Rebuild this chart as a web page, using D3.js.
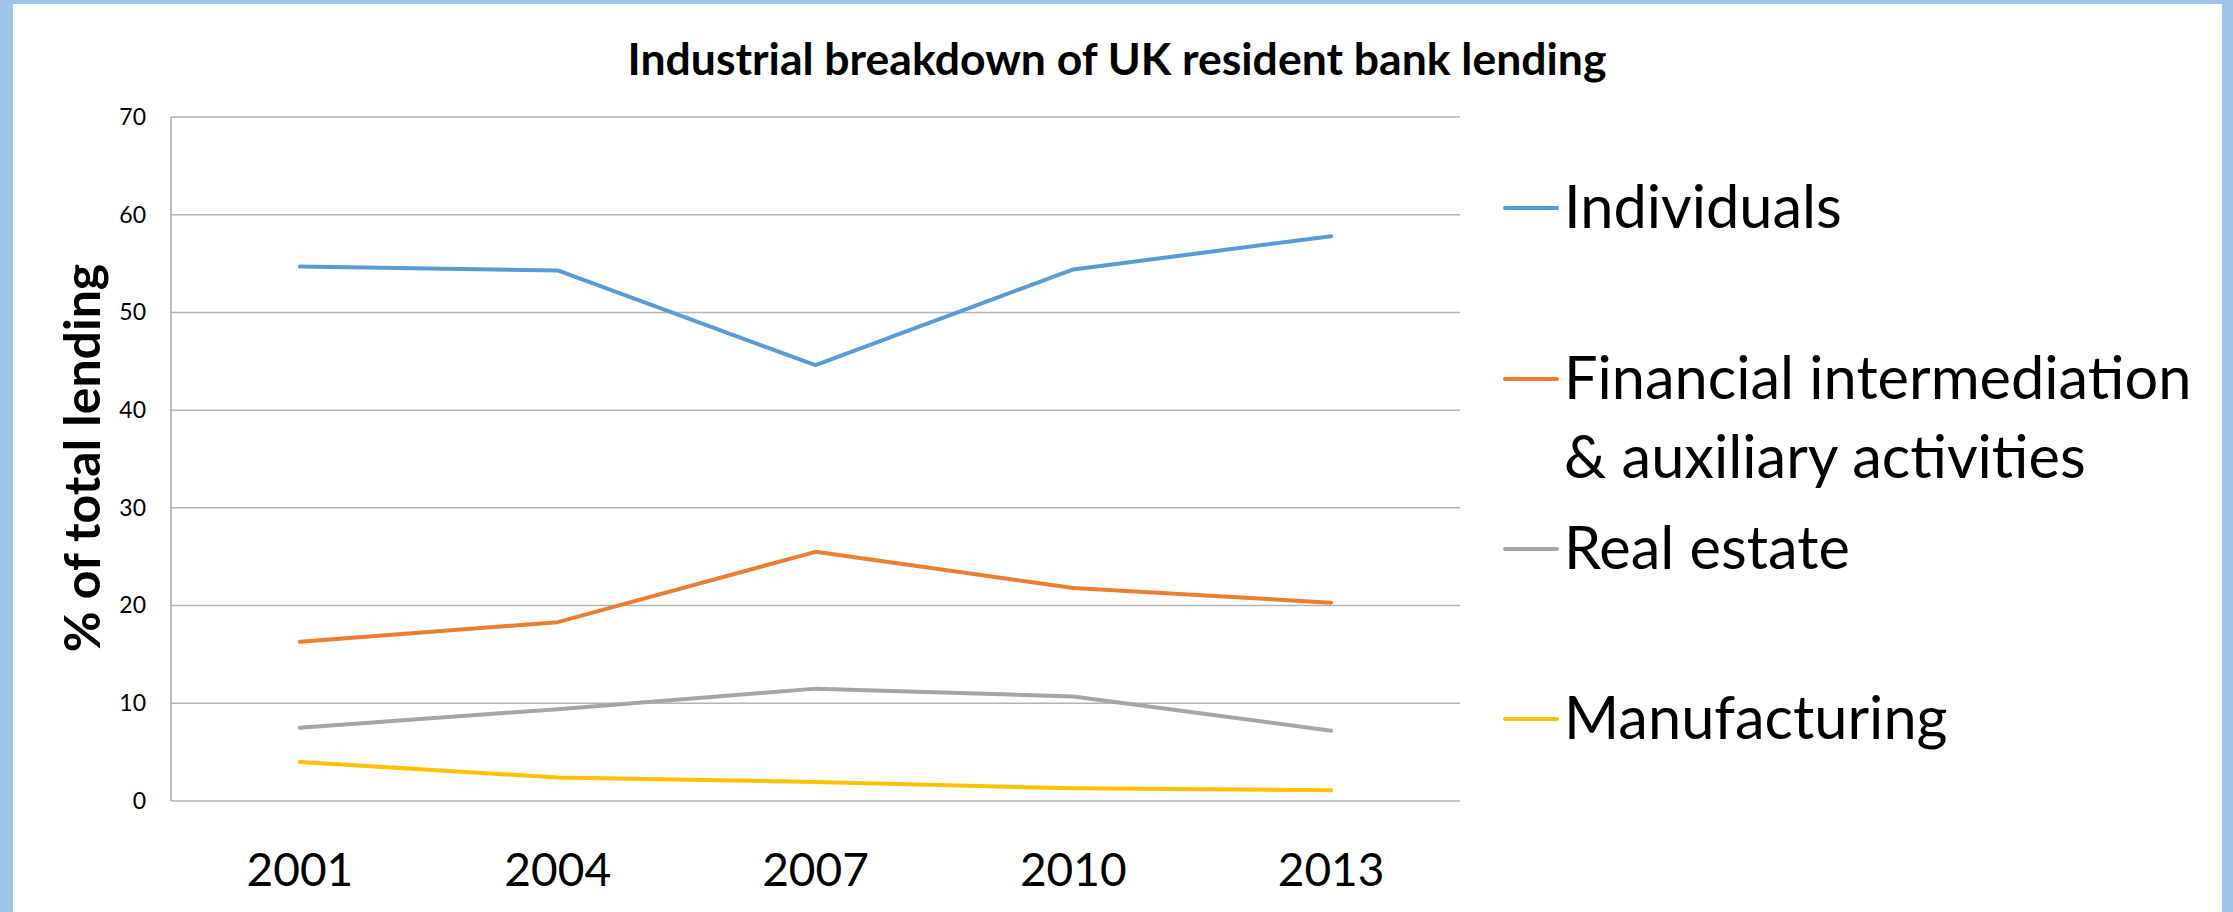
<!DOCTYPE html>
<html>
<head>
<meta charset="utf-8">
<script src="https://cdn.jsdelivr.net/npm/d3@7"></script>
<style>
  html, body { margin: 0; padding: 0; background: #fff; }
  svg { display: block; }
  text { font-family: Lato, "Open Sans", sans-serif; fill: #000; }
</style>
</head>
<body>
<script>
// ---- data ----
const years = ["2001", "2004", "2007", "2010", "2013"];
const individuals = [54.7, 54.3, 44.6, 54.4, 57.8];
const financial = [16.3, 18.3, 25.5, 21.8, 20.3];
const realEstate = [7.5, 9.4, 11.5, 10.7, 7.2];
const manufacturing = [4.0, 2.4, 1.95, 1.3, 1.1];
const seriesNames = ["Individuals", "Financial intermediation\n& auxiliary activities", "Real estate", "Manufacturing"];
const seriesColors = ["#5B9BD5", "#ED7D31", "#A5A5A5", "#FFC000"];
const yTicks = [0, 10, 20, 30, 40, 50, 60, 70];
const title = "Industrial breakdown of UK resident bank lending";
const yTitle = "% of total lending";

const series = [individuals, financial, realEstate, manufacturing].map((v, i) => ({
  name: seriesNames[i], color: seriesColors[i], values: v
}));

// ---- layout ----
const W = 2233, H = 912;
const plot = { left: 171, right: 1460, top: 117, bottom: 801 };

const svg = d3.select("body").append("svg").attr("width", W).attr("height", H);

// frame (light blue border)
svg.append("rect").attr("x", 0).attr("y", 0).attr("width", W).attr("height", H).attr("fill", "#9DC3E6");
svg.append("rect").attr("x", 13).attr("y", 4).attr("width", 2222 - 13).attr("height", H - 4).attr("fill", "#fff");

const x = d3.scaleBand().domain(years).range([plot.left, plot.right]).padding(0);
const y = d3.scaleLinear().domain([0, 70]).range([plot.bottom, plot.top]);

// gridlines
svg.append("g")
  .selectAll("line").data(yTicks).join("line")
  .attr("x1", plot.left).attr("x2", plot.right)
  .attr("y1", d => y(d)).attr("y2", d => y(d))
  .attr("stroke", "#B3B3B3").attr("stroke-width", 1.5);

// y axis line
svg.append("line")
  .attr("x1", plot.left).attr("x2", plot.left)
  .attr("y1", y(70)).attr("y2", y(0))
  .attr("stroke", "#A6A6A6").attr("stroke-width", 1.5);

// y tick labels
const yAxis = d3.axisLeft(y).tickValues(yTicks).tickSize(0).tickPadding(25);
const gy = svg.append("g").attr("transform", `translate(${plot.left},0)`).call(yAxis);
gy.select(".domain").remove();
gy.selectAll("text").attr("font-size", 23).attr("font-family", "Lato, sans-serif").attr("fill", "#000");

// x tick labels
const xAxis = d3.axisBottom(x).tickSize(0).tickPadding(52);
const gx = svg.append("g").attr("transform", `translate(0,${plot.bottom})`).call(xAxis);
gx.select(".domain").remove();
gx.selectAll("text").attr("font-size", 46).attr("font-family", "Lato, sans-serif").attr("fill", "#000");

// lines
const line = d3.line()
  .x((d, i) => x(years[i]) + x.bandwidth() / 2)
  .y(d => y(d));

svg.append("g").selectAll("path").data(series).join("path")
  .attr("d", d => line(d.values))
  .attr("fill", "none")
  .attr("stroke", d => d.color)
  .attr("stroke-width", 4)
  .attr("stroke-linejoin", "round")
  .attr("stroke-linecap", "round");

// title
svg.append("text")
  .attr("x", 1117).attr("y", 75)
  .attr("text-anchor", "middle")
  .attr("font-size", 44.5).attr("font-weight", 700)
  .text(title);

// y-axis title
svg.append("text")
  .attr("transform", "translate(100,458) rotate(-90)")
  .attr("text-anchor", "middle")
  .attr("font-size", 50).attr("font-weight", 700)
  .text(yTitle);

// legend
const legendY = [208, 379, 549, 719];
const lg = svg.append("g").selectAll("g").data(series).join("g")
  .attr("transform", (d, i) => `translate(1505,${legendY[i]})`);
lg.append("line")
  .attr("x1", 0).attr("x2", 52).attr("y1", 0).attr("y2", 0)
  .attr("stroke", d => d.color).attr("stroke-width", 4).attr("stroke-linecap", "round");
lg.append("text")
  .attr("x", 59).attr("y", 20)
  .attr("font-size", 59.5)
  .each(function(d) {
    const parts = d.name.split("\n");
    d3.select(this).selectAll("tspan").data(parts).join("tspan")
      .attr("x", 59).attr("dy", (p, j) => j === 0 ? 0 : 79)
      .text(p => p);
  });
</script>
</body>
</html>
